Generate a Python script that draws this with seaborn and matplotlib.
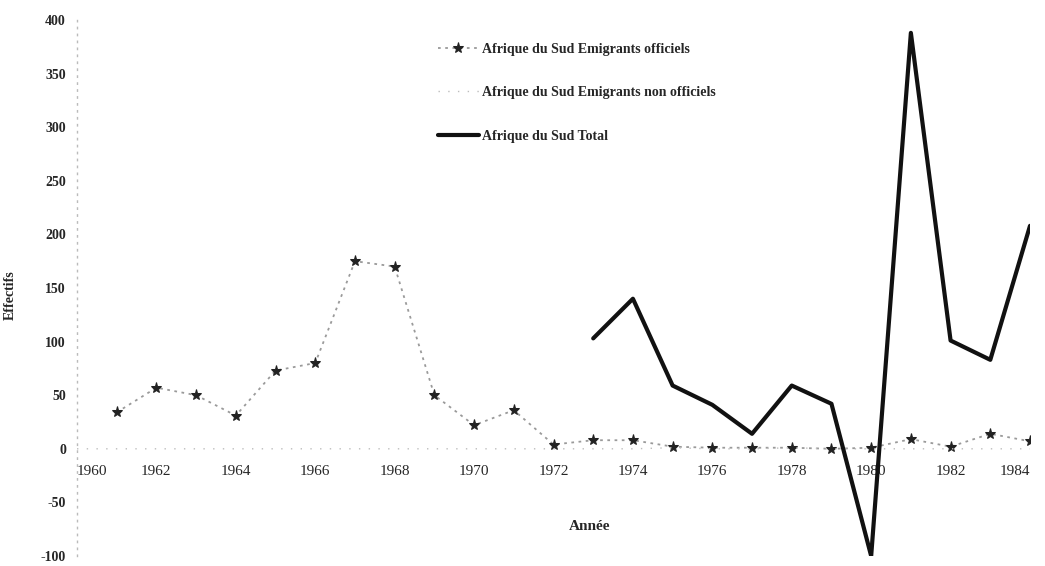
import numpy as np
import pandas as pd
import matplotlib
matplotlib.use("Agg")
import matplotlib.pyplot as plt
import seaborn as sns

years = list(range(1960, 1985))
official = [np.nan, 34, 57, 50, 31, 73, 80, 175, 170, 50, 22, 36, 4,
            8, 8, 2, 1, 1, 1, 0, 1, 9, 2, 14, 7]
non_official = [0, 0, 0, 0, 0, 0, 0, 0, 0, 0, 0, 0, 0,
                0, 0, 1, 0, 0, 1, 0, 0, 0, 0, 0, 0]
total_years = list(range(1973, 1985))
total = [103, 140, 59, 41, 14, 59, 42, -100, 388, 101, 83, 208]

labels = ["Afrique du Sud Emigrants officiels",
          "Afrique du Sud Emigrants non officiels",
          "Afrique du Sud Total"]
yticks = list(range(-100, 401, 50))
xticks = list(range(1960, 1985, 2))

sns.set_theme(style="white")
plt.rcParams["font.family"] = ["Liberation Serif", "DejaVu Serif"]

top_px, bot_px, left_px, right_px = 20, 556, 77, 1030
fig = plt.figure(figsize=(10.45, 5.66), dpi=100)
ax = fig.add_axes([left_px / 1045, 1 - bot_px / 566,
                   (right_px - left_px) / 1045, (bot_px - top_px) / 566])

df1 = pd.DataFrame({"year": years, "value": official})
df2 = pd.DataFrame({"year": years, "value": non_official})
df3 = pd.DataFrame({"year": total_years, "value": total})

sns.lineplot(data=df1, x="year", y="value", ax=ax, color="#9a9a9a",
             linestyle=(0, (1.5, 2.5)), linewidth=1.3, marker="*",
             markersize=8, markerfacecolor="#222222", markeredgecolor="#222222",
             label=labels[0])
sns.lineplot(data=df2, x="year", y="value", ax=ax, color="#bdbdbd",
             linestyle=(0, (1, 6)), linewidth=1.0, label=labels[1])
sns.lineplot(data=df3, x="year", y="value", ax=ax, color="#111111",
             linewidth=3.0, label=labels[2])

ax.set_xlim(1960, 1984)
ax.set_ylim(-100, 400)
ax.set_yticks(yticks)
ax.set_xticks(xticks)
ax.set_xticklabels([str(x) for x in xticks], fontsize=10, fontweight="bold")
ax.set_yticklabels([str(y) for y in yticks], fontsize=10, fontweight="bold")

for s in ["top", "right"]:
    ax.spines[s].set_visible(False)
ax.spines["bottom"].set_position(("data", 0))
ax.spines["bottom"].set_visible(False)
ax.spines["left"].set_color("#bbbbbb")
ax.spines["left"].set_linestyle((0, (1, 4)))
ax.spines["left"].set_linewidth(1.0)
ax.tick_params(axis="y", length=4, direction="inout", color="#aaaaaa", pad=6)
ax.tick_params(axis="x", length=0, pad=12)

W = right_px - left_px
H = bot_px - top_px
ax.set_xlabel("Année", fontsize=11, fontweight="bold")
ax.xaxis.set_label_coords((590 - left_px) / W, (bot_px - 520) / H)
ax.set_ylabel("Effectifs", fontsize=10, fontweight="bold")
ax.yaxis.set_label_coords(-(left_px - 17) / W, (bot_px - 295) / H)

leg = ax.legend(loc="upper left",
                bbox_to_anchor=((425 - left_px) / W, 1 - (30 - top_px) / H),
                frameon=False, handlelength=3.0, labelspacing=2.2,
                handletextpad=0.2, prop={"weight": "bold", "size": 10})

fig.canvas.draw()
ticks = ax.xaxis.get_major_ticks()
ticks[0].label1.set_horizontalalignment("left")
ticks[-1].label1.set_horizontalalignment("right")

fig.savefig("out.png", dpi=100)
